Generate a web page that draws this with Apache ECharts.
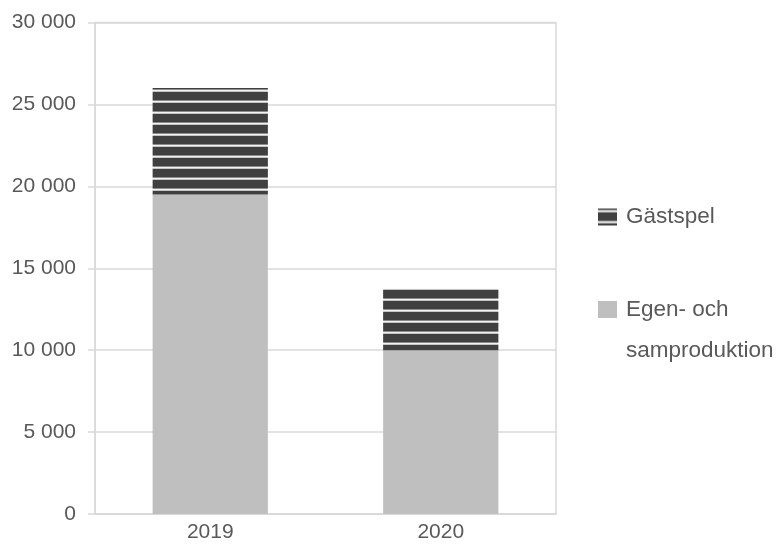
<!DOCTYPE html>
<html>
<head>
<meta charset="utf-8">
<style>
html,body{margin:0;padding:0;background:#fff;}
#chart{width:776px;height:547px;}
</style>
<script src="https://cdn.jsdelivr.net/npm/echarts@6/dist/echarts.min.js"></script>
</head>
<body>
<div id="chart"></div>
<script>
var categories = ['2019', '2020'];
var egenValues = [19500, 10000];
var gastValues = [6500, 3750];
var seriesNames = ['Egen- och samproduktion', 'Gästspel'];

function makeStripe() {
  var c = document.createElement('canvas');
  c.width = 8; c.height = 11;
  var ctx = c.getContext('2d');
  var rows = ['#404040', '#8c8c8c', '#f2f2f2', '#c4c4c4', '#404040', '#404040', '#404040', '#404040', '#404040', '#404040', '#404040'];
  for (var i = 0; i < rows.length; i++) {
    ctx.fillStyle = rows[i];
    ctx.fillRect(0, i, 8, 1);
  }
  return c;
}
var stripe = makeStripe();

function fmt(v) { return String(v).replace(/\B(?=(\d{3})+(?!\d))/g, ' '); }

var font = '"Liberation Sans", Arial, sans-serif';
var chart = echarts.init(document.getElementById('chart'));
chart.setOption({
  animation: false,
  backgroundColor: '#ffffff',
  textStyle: { fontFamily: font },
  grid: {
    left: 95, right: 220, top: 22.5, bottom: 33,
    show: true, borderColor: '#d9d9d9', borderWidth: 1.5
  },
  legend: [
    {
      data: [seriesNames[1]],
      orient: 'vertical',
      left: 598, top: 199,
      padding: 0,
      itemWidth: 19, itemHeight: 17,
      itemGap: 0,
      icon: 'rect',
      selectedMode: false,
      textStyle: { fontFamily: font, fontSize: 22.5, color: '#595959', lineHeight: 24, padding: [12, 0, 0, 4] }
    },
    {
      data: [seriesNames[0]],
      orient: 'vertical',
      left: 598, top: 238,
      padding: 0,
      itemWidth: 19, itemHeight: 17,
      itemGap: 0,
      icon: 'rect',
      selectedMode: false,
      formatter: function () { return '\nEgen- och\nsamproduktion'; },
      textStyle: { fontFamily: font, fontSize: 22.5, color: '#595959', lineHeight: 41, padding: [20, 0, 0, 4] }
    }
  ],
  xAxis: {
    type: 'category',
    data: categories,
    axisLine: { show: true, lineStyle: { color: '#d9d9d9', width: 1.5 } },
    axisTick: { show: false },
    axisLabel: { color: '#595959', fontSize: 21, fontFamily: font, margin: 8 }
  },
  yAxis: {
    type: 'value',
    min: 0, max: 30000, interval: 5000,
    axisLine: { show: true, lineStyle: { color: '#d9d9d9', width: 1.5 } },
    axisTick: { show: true, length: 7, lineStyle: { color: '#d9d9d9', width: 1.5 } },
    splitLine: { show: true, lineStyle: { color: '#d9d9d9', width: 1.5 } },
    axisLabel: { color: '#595959', fontSize: 21, fontFamily: font, margin: 19, formatter: fmt }
  },
  series: [
    {
      name: seriesNames[0],
      type: 'bar',
      stack: 'total',
      barWidth: '50%',
      data: egenValues,
      itemStyle: { color: '#bfbfbf' }
    },
    {
      name: seriesNames[1],
      type: 'bar',
      stack: 'total',
      barWidth: '50%',
      data: gastValues,
      itemStyle: { color: { image: stripe, repeat: 'repeat' } }
    }
  ]
});
</script>
</body>
</html>
